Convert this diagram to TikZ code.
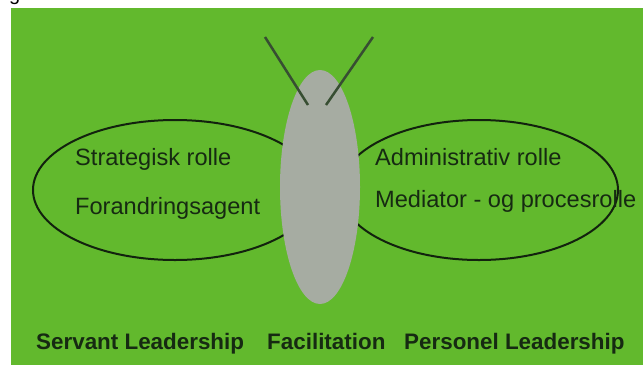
\documentclass[tikz,border=0pt]{standalone}
\usepackage{fontspec}
\setmainfont{Liberation Sans}

\definecolor{leaf}{RGB}{98,185,45}
\definecolor{body}{RGB}{166,172,162}
\definecolor{feeler}{RGB}{55,78,50}
\definecolor{ink}{RGB}{22,42,18}

\begin{document}
\begin{tikzpicture}[x=1pt,y=-1pt,
    rolle/.style={anchor=base west, inner sep=0pt, text=ink,
      font=\fontsize{23.6}{28}\selectfont},
    stil/.style={anchor=base west, inner sep=0pt, text=ink,
      font=\fontsize{22.4}{27}\selectfont\bfseries}]
  \useasboundingbox (0,0) rectangle (643,365);
  \fill[white] (0,0) rectangle (643,365);
  \node[anchor=base west, inner sep=0pt, font=\fontsize{20}{24}\selectfont] (rest) at (9,0) {g};

  % Hintergrund
  \fill[leaf] (11,8) rectangle (643,365);

  % Fluegel
  \begin{scope}[line width=2pt, draw=ink!80!black]
    \draw (175,190) ellipse [x radius=142, y radius=70];
    \draw (479,190) ellipse [x radius=139, y radius=70];
  \end{scope}

  % Koerper und Fuehler
  \fill[body] (320,187) ellipse [x radius=40, y radius=117];
  \begin{scope}[line width=2.5pt, feeler]
    \draw (265,37) -- (308,105);
    \draw (373,37) -- (326,105);
  \end{scope}

  % Rollen
  \node[rolle] (strat) at (75,165) {Strategisk rolle};
  \node[rolle] (forand) at (75,214) {Forandringsagent};
  \node[rolle] (admin) at (375,165) {Administrativ rolle};
  \node[rolle] (medi) at (375,207) {Mediator - og procesrolle};

  % Leadership
  \node[stil] (servant) at (36,349) {Servant Leadership};
  \node[stil] (facil) at (267,349) {Facilitation};
  \node[stil] (personel) at (404,349) {Personel Leadership};
\end{tikzpicture}
\end{document}
